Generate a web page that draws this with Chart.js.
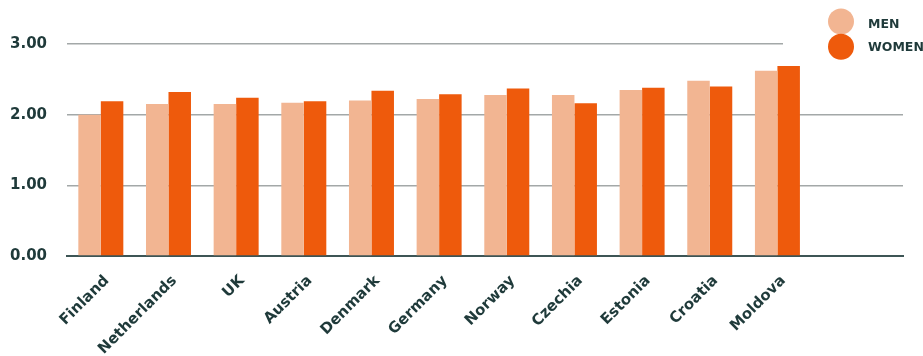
<!DOCTYPE html>
<html><head><meta charset="utf-8">
<script src="https://cdn.jsdelivr.net/npm/chart.js@4/dist/chart.umd.min.js"></script>
<style>html,body{margin:0;padding:0;background:#fff}#wrap{width:923px;height:356px;position:relative}</style>
</head><body><div id="wrap"><canvas id="c"></canvas></div>
<script>
const categories = ['Finland','Netherlands','UK','Austria','Denmark','Germany','Norway','Czechia','Estonia','Croatia','Moldova'];
const menValues = [2.00, 2.15, 2.15, 2.17, 2.20, 2.22, 2.28, 2.28, 2.35, 2.48, 2.62];
const womenValues = [2.19, 2.32, 2.24, 2.19, 2.34, 2.29, 2.37, 2.16, 2.38, 2.40, 2.69];
const seriesNames = ['MEN', 'WOMEN'];
const yTickValues = [0, 1, 2, 3];

const MEN_COLOR = '#F2B592';
const WOMEN_COLOR = '#EE5A0C';
const TEXT_COLOR = '#1F3A3A';
const FONT = '"DejaVu Sans", sans-serif';

const cornerLegend = {
  id: 'cornerLegend',
  beforeDatasetsDraw(chart) {
    const {ctx, width} = chart;
    ctx.save();
    ctx.fillStyle = '#ffffff';
    ctx.fillRect(width - 140, 0, 140, 56);
    const items = [
      {name: seriesNames[0], color: MEN_COLOR, y: 21.5, ty: 25},
      {name: seriesNames[1], color: WOMEN_COLOR, y: 46.7, ty: 47.5}
    ];
    items.forEach(it => {
      ctx.beginPath();
      ctx.fillStyle = it.color;
      ctx.arc(width - 82, it.y, 13, 0, Math.PI * 2);
      ctx.fill();
    });
    ctx.fillStyle = TEXT_COLOR;
    ctx.font = '700 12.5px ' + FONT;
    ctx.textBaseline = 'middle';
    ctx.textAlign = 'left';
    items.forEach(it => ctx.fillText(it.name, width - 55, it.ty));
    ctx.restore();
  }
};

const toPoints = arr => arr.map((v, i) => ({x: i, y: v}));

new Chart(document.getElementById('c'), {
  type: 'bar',
  data: {
    datasets: [
      {label: seriesNames[0], data: toPoints(menValues), backgroundColor: MEN_COLOR, borderWidth: 0,
       categoryPercentage: 0.665, barPercentage: 1.0},
      {label: seriesNames[1], data: toPoints(womenValues), backgroundColor: WOMEN_COLOR, borderWidth: 0,
       categoryPercentage: 0.665, barPercentage: 1.0}
    ]
  },
  options: {
    responsive: true,
    maintainAspectRatio: false,
    animation: false,
    layout: {padding: {top: 44, right: 20, left: 0, bottom: 0}},
    plugins: {legend: {display: false}, tooltip: {enabled: false}, title: {display: false}},
    scales: {
      x: {
        type: 'linear',
        offset: false,
        min: -0.5,
        max: 11.856,
        afterBuildTicks: s => { s.ticks = categories.map((_, i) => ({value: i})); },
        afterFit: s => { s.height = 100; },
        grid: {display: false, drawTicks: false, offset: false},
        border: {display: true, color: '#3D5555', width: 2},
        ticks: {
          autoSkip: false,
          minRotation: 45, maxRotation: 45,
          padding: 16,
          labelOffset: 6,
          color: TEXT_COLOR,
          font: {family: FONT, size: 15, weight: '700'},
          callback: v => categories[v] ?? ''
        }
      },
      y: {
        min: 0, max: 3,
        afterBuildTicks: s => { s.ticks = yTickValues.map(v => ({value: v})); },
        afterFit: s => { s.width = 67; },
        grid: {color: '#A3A8A8', lineWidth: 1.5, drawTicks: false},
        border: {display: false},
        ticks: {
          padding: 20,
          color: TEXT_COLOR,
          font: {family: FONT, size: 15, weight: '700'},
          callback: v => Number(v).toFixed(2)
        }
      }
    }
  },
  plugins: [cornerLegend]
});
</script></body></html>
